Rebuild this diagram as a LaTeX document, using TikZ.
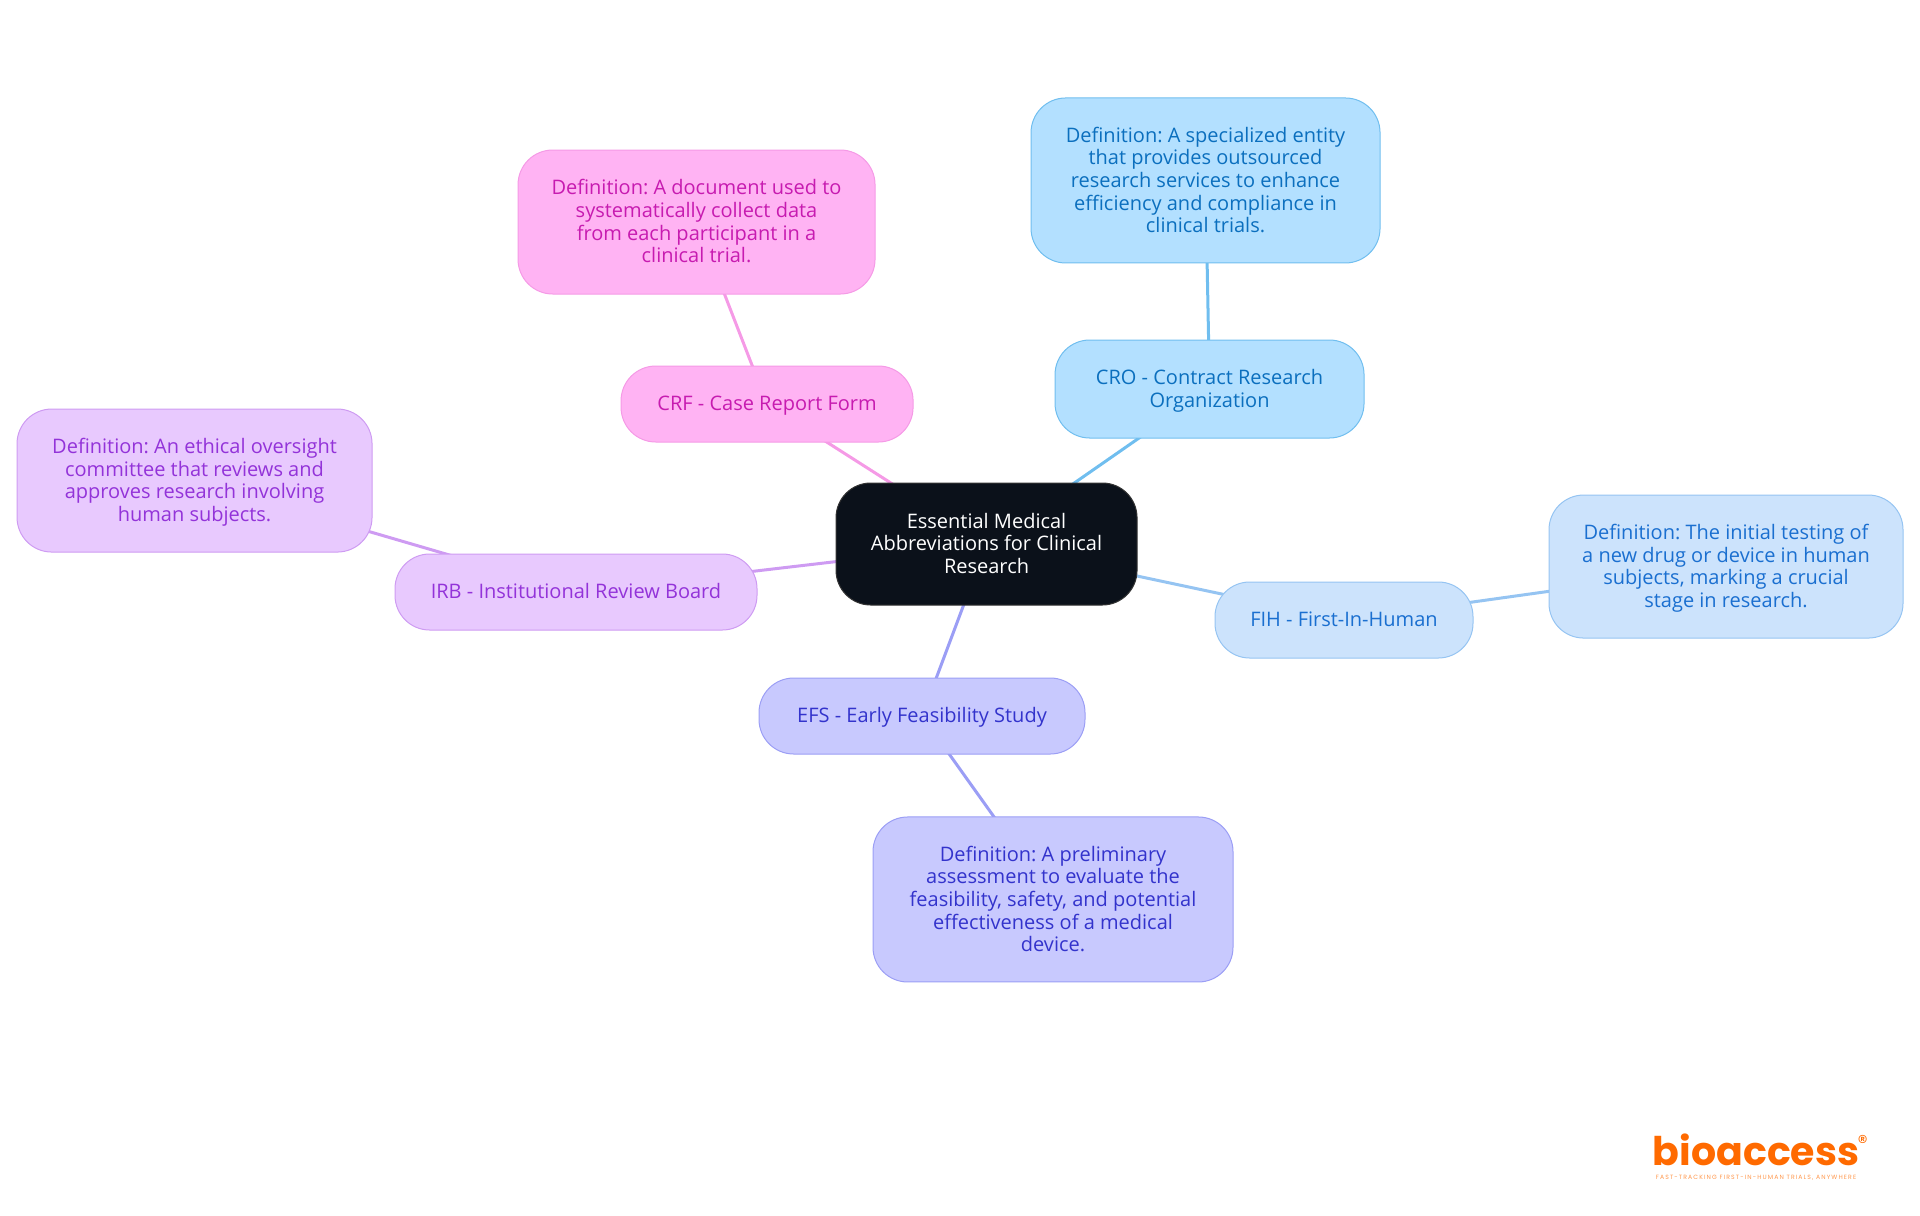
\documentclass[tikz,border=0pt]{standalone}
\usepackage{fontspec}
\setmainfont{Open Sans}
\newfontfamily\logofont{Poppins}
\newfontfamily\tagfont[LetterSpace=18]{Poppins}
\usetikzlibrary{positioning,backgrounds}

\definecolor{rootfill}{HTML}{0B111A}
\definecolor{crffill}{HTML}{FFB3F3}
\definecolor{crfline}{HTML}{F59AE6}
\definecolor{crftext}{HTML}{C71BB0}
\definecolor{crofill}{HTML}{B3E0FF}
\definecolor{croline}{HTML}{70BEEF}
\definecolor{crotext}{HTML}{0B6FBE}
\definecolor{fihfill}{HTML}{CCE3FC}
\definecolor{fihline}{HTML}{95C4F2}
\definecolor{fihtext}{HTML}{1A6FD0}
\definecolor{efsfill}{HTML}{C8C9FE}
\definecolor{efsline}{HTML}{9B9EF5}
\definecolor{efstext}{HTML}{3333CC}
\definecolor{irbfill}{HTML}{E8C9FE}
\definecolor{irbline}{HTML}{CE9BF2}
\definecolor{irbtext}{HTML}{9333D9}
\definecolor{logoorange}{HTML}{FF6A00}

\begin{document}
\begin{tikzpicture}[node distance=75pt,font=\fontsize{15}{17}\selectfont\frenchspacing]
  \tikzstyle{mapnode}=[rectangle,rounded corners=26pt,line width=0.75pt,align=flush center,inner sep=0pt,
                       execute at begin node={\rule{0pt}{15.5pt}},execute at end node=\strut]
  \tikzstyle{rootnode}=[mapnode,fill=rootfill,draw=black!80,text=white]
  \tikzstyle{crfnode}=[mapnode,fill=crffill,draw=crfline,text=crftext]
  \tikzstyle{cronode}=[mapnode,fill=crofill,draw=croline,text=crotext]
  \tikzstyle{fihnode}=[mapnode,fill=fihfill,draw=fihline,text=fihtext]
  \tikzstyle{efsnode}=[mapnode,fill=efsfill,draw=efsline,text=efstext]
  \tikzstyle{irbnode}=[mapnode,fill=irbfill,draw=irbline,text=irbtext]
  \tikzstyle{branch}=[line width=2.25pt]

  \useasboundingbox (0,0) rectangle (1440pt,-911.25pt);

  \node[rootnode] (root) at (739.9pt,-408pt) [text width=225.75pt,minimum height=91.5pt]
    {Essential Medical\\Abbreviations for Clinical\\Research};

  \node[crfnode] (CRF) [above of=root, xshift=-164.6pt, yshift=30pt, text width=219pt, minimum height=57pt]
    {CRF - Case Report Form};
  \node[crfnode] (CRFdef) [above of=CRF, xshift=-52.9pt, yshift=61.5pt, text width=267.75pt, minimum height=108pt]
    {Definition: A document used to\\systematically collect data\\from each participant in a\\clinical trial.};

  \node[cronode] (CRO) [above of=root, xshift=167.25pt, yshift=41.25pt, text width=231.75pt, minimum height=73.5pt]
    {CRO - Contract Research\\Organization};
  \node[cronode] (CROdef) [above of=CRO, xshift=-3pt, yshift=81.4pt, text width=261.75pt, minimum height=123.75pt]
    {Definition: A specialized entity\\that provides outsourced\\research services to enhance\\efficiency and compliance in\\clinical trials.};

  \node[irbnode] (IRB) [left of=root, xshift=-232.9pt, yshift=-36pt, text width=271.5pt, minimum height=57pt]
    {IRB - Institutional Review Board};
  \node[irbnode] (IRBdef) [left of=IRB, xshift=-211.1pt, yshift=83.6pt, text width=266.25pt, minimum height=107.25pt]
    {Definition: An ethical oversight\\committee that reviews and\\approves research involving\\human subjects.};

  \node[fihnode] (FIH) [right of=root, xshift=193.1pt, yshift=-57pt, text width=193.5pt, minimum height=57pt]
    {FIH - First-In-Human};
  \node[fihnode] (FIHdef) [right of=FIH, xshift=211.5pt, yshift=40.1pt, text width=265.5pt, minimum height=107.25pt]
    {Definition: The initial testing of\\a new drug or device in human\\subjects, marking a crucial\\stage in research.};

  \node[efsnode] (EFS) [below of=root, xshift=-48.4pt, yshift=-54pt, text width=244.5pt, minimum height=57pt]
    {EFS - Early Feasibility Study};
  \node[efsnode] (EFSdef) [below of=EFS, xshift=98.25pt, yshift=-62.6pt, text width=270pt, minimum height=123.75pt]
    {Definition: A preliminary\\assessment to evaluate the\\feasibility, safety, and potential\\effectiveness of a medical\\device.};

  \node[text=logoorange,inner sep=0pt,font=\logofont\bfseries\fontsize{29.6}{30}\selectfont] (logo) at (1317pt,-862pt) {bioaccess};
  \node[text=logoorange,inner sep=0pt,font=\logofont\fontsize{15}{15}\selectfont] (reg) at (1397pt,-856.5pt) {®};
  \node[text=logoorange!70,inner sep=0pt,font=\tagfont\fontsize{4.6}{5}\selectfont] (tag) at (1317pt,-883pt) {FAST-TRACKING FIRST-IN-HUMAN TRIALS, ANYWHERE};

  \begin{pgfonlayer}{background}
    \path (root.center) edge [branch,draw=crfline] (CRF.center)
                        edge [branch,draw=croline] (CRO.center)
                        edge [branch,draw=irbline] (IRB.center)
                        edge [branch,draw=fihline] (FIH.center)
                        edge [branch,draw=efsline] (EFS.center)
          (CRF.center)  edge [branch,draw=crfline] (CRFdef.center)
          (CRO.center)  edge [branch,draw=croline] (CROdef.center)
          (IRB.center)  edge [branch,draw=irbline] (IRBdef.center)
          (FIH.center)  edge [branch,draw=fihline] (FIHdef.center)
          (EFS.center)  edge [branch,draw=efsline] (EFSdef.center);
  \end{pgfonlayer}
\end{tikzpicture}
\end{document}
